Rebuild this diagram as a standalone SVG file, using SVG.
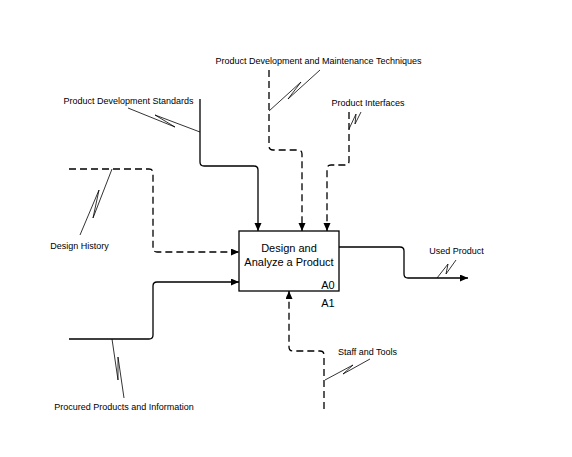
<svg xmlns="http://www.w3.org/2000/svg" width="572" height="457" viewBox="0 0 572 457">
<style>
.lbl{font-family:"Liberation Sans",Arial,sans-serif;font-size:9px;fill:#000;text-anchor:middle}
.box{font-family:"Liberation Sans",Arial,sans-serif;font-size:11px;fill:#000;text-anchor:middle}
.c{fill:none;stroke:#000;stroke-width:1.3}
.d{stroke-dasharray:7,4}
.sq{fill:none;stroke:#000;stroke-width:0.8}
</style>
<defs>
<marker id="ah" markerUnits="userSpaceOnUse" markerWidth="9" markerHeight="8" refX="8" refY="3.5" orient="auto">
<path d="M0,0 L8,3.5 L0,7 z" fill="#000"/>
</marker>
</defs>
<rect width="572" height="457" fill="#fff"/>
<g id="A0">
<rect x="239" y="231" width="100" height="60" fill="#fff" stroke="#000" stroke-width="1.3"/>
<text class="box" x="289" y="252">Design and</text>
<text class="box" x="289" y="265.5">Analyze a Product</text>
<text class="box" x="328" y="289">A0</text>
<text class="box" x="328" y="306.5">A1</text>
</g>
<g id="connectors">
<path class="c" d="M200,99 V162 Q200,166 204,166 H254 Q258,166 258,170 V231" marker-end="url(#ah)"/>
<path class="c d" d="M269,70 V146 Q269,150 273,150 H298 Q302,150 302,154 V231" marker-end="url(#ah)"/>
<path class="c d" d="M349,112 V161 Q349,165 345,165 H331 Q327,165 327,169 V231" marker-end="url(#ah)"/>
<path class="c d" d="M69,169 H149 Q153,169 153,173 V248 Q153,252 157,252 H239" marker-end="url(#ah)"/>
<path class="c" d="M69,339 H149 Q153,339 153,335 V286 Q153,282 157,282 H239" marker-end="url(#ah)"/>
<path class="c d" d="M324,409 V355 Q324,351 320,351 H293 Q289,351 289,347 V291" marker-end="url(#ah)"/>
<path class="c" d="M339,247 H400 Q404,247 404,251 V274 Q404,278 408,278 H468" marker-end="url(#ah)"/>
</g>
<g id="squiggles">
<polyline class="sq" points="128,108 175,127 155,115 200,132"/>
<polyline class="sq" points="320,70 288,99 301,82 269,111"/>
<polyline class="sq" points="361,112 355,124 356,114 349,129"/>
<polyline class="sq" points="80,235 99,190 93,218 112,169"/>
<polyline class="sq" points="112,339 118,380 118,357 124,398"/>
<polyline class="sq" points="370,359 343,374 353,365 325,380"/>
<polyline class="sq" points="456,260 446,274 448,264 437,278"/>
</g>
<g id="labels">
<text class="lbl" x="318.5" y="64">Product Development and Maintenance Techniques</text>
<text class="lbl" x="128.5" y="104">Product Development Standards</text>
<text class="lbl" x="368" y="106">Product Interfaces</text>
<text class="lbl" x="79.5" y="249">Design History</text>
<text class="lbl" x="456.5" y="254">Used Product</text>
<text class="lbl" x="367.5" y="355">Staff and Tools</text>
<text class="lbl" x="124" y="410">Procured Products and Information</text>
</g>
</svg>
